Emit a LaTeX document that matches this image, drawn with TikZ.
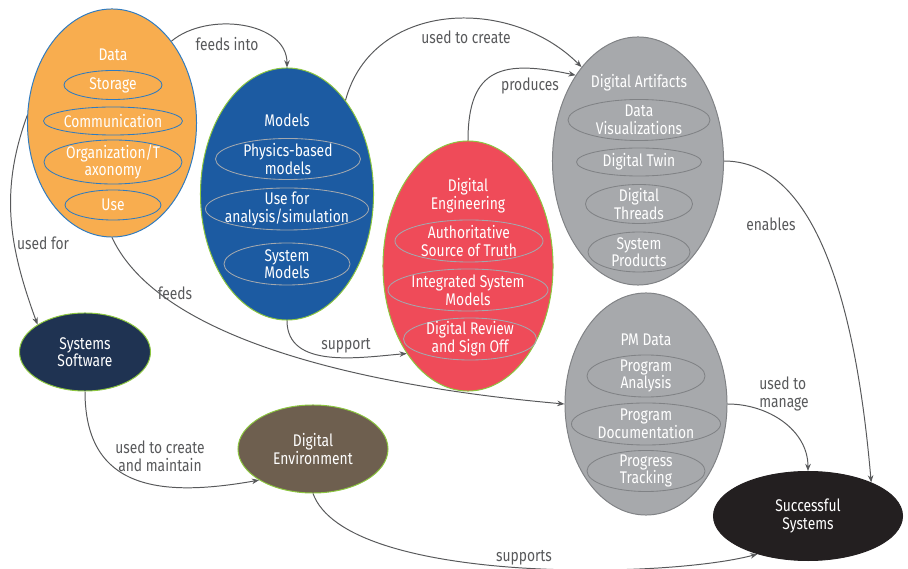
\documentclass[tikz,border=0pt]{standalone}
\usepackage{fontspec}
\setmainfont{Fira Sans}[FakeStretch=0.82]
\usetikzlibrary{shapes.geometric, arrows.meta, positioning}

\definecolor{dataorange}{HTML}{F8AD4F}
\definecolor{datablue}{HTML}{2F7BC0}
\definecolor{modelblue}{HTML}{1C5BA2}
\definecolor{rimgreen}{HTML}{8CC63F}
\definecolor{engred}{HTML}{EF4B59}
\definecolor{artgray}{HTML}{A7A9AC}
\definecolor{rimgray}{HTML}{808285}
\definecolor{softgray}{HTML}{A3A8AE}
\definecolor{swnavy}{HTML}{1F3352}
\definecolor{envbrown}{HTML}{6E5F4F}
\definecolor{succblack}{HTML}{231F20}
\definecolor{linkgray}{HTML}{58595B}

\tikzset{
  blob/.style={ellipse, draw, line width=0.7pt, inner sep=0pt, text=white, align=center},
  item/.style={ellipse, draw, line width=0.6pt, inner sep=0pt},
  ttl/.style={text=white, align=center, inner sep=0pt},
  lbl/.style={text=linkgray, align=center, inner sep=0pt},
  link/.style={draw=linkgray, line width=0.7pt, -{Stealth[length=1.8mm, width=1.4mm]}},
}

\begin{document}
\begin{tikzpicture}[x=0.025cm, y=-0.025cm, font=\fontsize{12}{12.5}\selectfont]
    \useasboundingbox (0,0) rectangle (908,569);

    % Data
    \node[blob, minimum width=4.225cm, minimum height=5.7cm, fill=dataorange, draw=datablue] (data) at (112,123) {};
    \node[ttl] (dataT) at (113,55) {Data};
    \node[item, minimum width=2.45cm, minimum height=0.725cm, draw=datablue] (storage) at (113,85) {};
    \node[ttl] (storageT) at (storage) {Storage};
    \node[item, minimum width=3.475cm, minimum height=0.7cm, draw=datablue] (comm) at (113,121) {};
    \node[ttl] (commT) at (comm) {Communication};
    \node[item, minimum width=3.45cm, minimum height=1.1cm, draw=datablue] (org) at (113,162) {};
    \node[ttl] (orgT) at (org) {Organization/T\\axonomy};
    \node[item, minimum width=2.4cm, minimum height=0.75cm, draw=datablue] (use) at (113,205) {};
    \node[ttl] (useT) at (use) {Use};

    % Models
    \node[blob, minimum width=4.325cm, minimum height=6.3cm, fill=modelblue, draw=rimgreen] (models) at (287,194) {};
    \node[ttl] (modelsT) at (287,120) {Models};
    \node[item, minimum width=3.625cm, minimum height=1.025cm, draw=softgray] (physics) at (288,159) {};
    \node[ttl] (physicsT) at (physics) {Physics-based\\models};
    \node[item, minimum width=4.075cm, minimum height=1.05cm, draw=softgray] (analysis) at (287,209) {};
    \node[ttl] (analysisT) at (analysis) {Use for\\analysis/simulation};
    \node[item, minimum width=3.15cm, minimum height=1.05cm, draw=softgray] (sysmod) at (287,264) {};
    \node[ttl] (sysmodT) at (sysmod) {System\\Models};

    % Digital Engineering
    \node[blob, minimum width=4.25cm, minimum height=6.25cm, fill=engred, draw=rimgreen] (eng) at (468,266) {};
    \node[ttl] (engT) at (468,196) {Digital\\Engineering};
    \node[item, minimum width=3.7cm, minimum height=1.05cm, draw=softgray] (truth) at (469,241) {};
    \node[ttl] (truthT) at (truth) {Authoritative\\Source of Truth};
    \node[item, minimum width=4cm, minimum height=1.05cm, draw=softgray] (integ) at (468,290) {};
    \node[ttl] (integT) at (integ) {Integrated System\\Models};
    \node[item, minimum width=3.325cm, minimum height=1.05cm, draw=softgray] (review) at (470,339) {};
    \node[ttl] (reviewT) at (review) {Digital Review\\and Sign Off};

    % Digital Artifacts
    \node[blob, minimum width=4.275cm, minimum height=6.2cm, fill=artgray, draw=rimgray] (art) at (638,161) {};
    \node[ttl] (artT) at (639,83) {Digital Artifacts};
    \node[item, minimum width=3.55cm, minimum height=1.025cm, draw=rimgray] (vis) at (639,120) {};
    \node[ttl] (visT) at (vis) {Data\\Visualizations};
    \node[item, minimum width=3.125cm, minimum height=0.7cm, draw=rimgray] (twin) at (639,162) {};
    \node[ttl] (twinT) at (twin) {Digital Twin};
    \node[item, minimum width=2.675cm, minimum height=0.975cm, draw=rimgray] (threads) at (639,204) {};
    \node[ttl] (threadsT) at (threads) {Digital\\Threads};
    \node[item, minimum width=2.55cm, minimum height=1cm, draw=rimgray] (products) at (639,252) {};
    \node[ttl] (productsT) at (products) {System\\Products};

    % PM Data
    \node[blob, minimum width=4.05cm, minimum height=5.55cm, fill=artgray, draw=rimgray] (pm) at (646,404) {};
    \node[ttl] (pmT) at (646,340) {PM Data};
    \node[item, minimum width=2.95cm, minimum height=1.05cm, draw=rimgray] (progan) at (646,376) {};
    \node[ttl] (proganT) at (progan) {Program\\Analysis};
    \node[item, minimum width=3.725cm, minimum height=1.05cm, draw=rimgray] (progdoc) at (646,424) {};
    \node[ttl] (progdocT) at (progdoc) {Program\\Documentation};
    \node[item, minimum width=2.95cm, minimum height=1.025cm, draw=rimgray] (progtr) at (646,471) {};
    \node[ttl] (progtrT) at (progtr) {Progress\\Tracking};

    % the rest
    \node[blob, minimum width=4.725cm, minimum height=2.225cm, fill=succblack, draw=succblack] (succ) at (808,516) {Successful\\Systems};
    \node[blob, minimum width=3.275cm, minimum height=1.95cm, fill=swnavy, draw=rimgreen] (sw) at (85,352) {Systems\\Software};
    \node[blob, minimum width=3.75cm, minimum height=2.2cm, fill=envbrown, draw=rimgreen] (env) at (313,449) {Digital\\Environment};

    \draw[link] (data.54) to[out=40, in=90] (models.north);
    \draw[link] (models.58) to[out=75, in=135, looseness=1.1] (art.121);
    \draw[link] (eng.north) to[out=90, in=168, looseness=1.5] (art.126);
    \draw[link] (art.east) to[out=0, in=95, looseness=0.8] (succ.28);
    \draw[link] (pm.east) to[out=0, in=90] (succ.north);
    \draw[link] (data.175) to[out=250, in=110] (sw.150);
    \draw[link] (data.south) to[out=-65, in=175, looseness=0.7] (pm.west);
    \draw[link] (models.south) to[out=-90, in=185] (eng.235);
    \draw[link] (sw.south) to[out=-90, in=190, looseness=1.3] (env.210);
    \draw[link] (env.south) to[out=-70, in=195, looseness=0.55] (succ.217);

    \node[lbl] (lfeedsinto) at (227,44) {feeds into};
    \node[lbl] (lcreate) at (466,37) {used to create};
    \node[lbl] (lproduces) at (530,86) {produces};
    \node[lbl] (lenables) at (771,224) {enables};
    \node[lbl, align=left] (lmanage) at (784,394) {used to\\manage};
    \node[lbl] (lusedfor) at (43,243) {used for};
    \node[lbl] (lfeeds) at (175,293) {feeds};
    \node[lbl] (lsupport) at (346,346) {support};
    \node[lbl] (lmaintain) at (160,456) {used to create\\and maintain};
    \node[lbl] (lsupports) at (524,558) {supports};
\end{tikzpicture}
\end{document}
